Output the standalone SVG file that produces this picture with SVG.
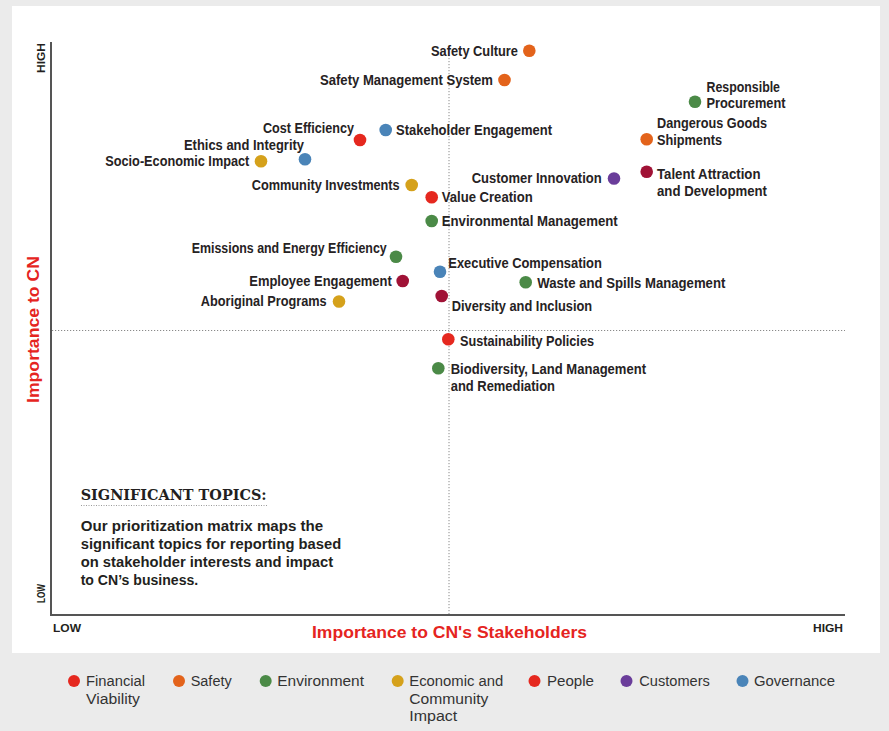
<svg xmlns="http://www.w3.org/2000/svg" width="889" height="731" viewBox="0 0 889 731">
<style>
text{font-family:"Liberation Sans",Arial,sans-serif;fill:#231f20}
.l{font-weight:700;font-size:14.4px;fill:#262223}
.g{font-weight:400;font-size:14px;fill:#333}
.ax{font-weight:700;font-size:11px}
.t{font-weight:700;font-size:17px;fill:#e52421}
.p{font-weight:700;font-size:14px}
.h{font-family:"DejaVu Serif","Liberation Serif",serif;font-weight:700;font-size:14px}
.red{fill:#e5281f}.org{fill:#e3631b}.grn{fill:#4b8a47}.gld{fill:#d5a11b}.mar{fill:#a01236}.pur{fill:#6a3d9a}.blu{fill:#4a84b8}
.dot{stroke:none}
</style>
<rect x="0" y="0" width="889" height="731" fill="#ebebeb"/>
<rect x="12" y="6" width="868" height="647" fill="#ffffff"/>

<g id="axes">
<line x1="449" y1="55" x2="449" y2="615" stroke="#8a8a8a" stroke-width="1" stroke-dasharray="1.2,1.8"/>
<line x1="52" y1="330.5" x2="845" y2="330.5" stroke="#8a8a8a" stroke-width="1" stroke-dasharray="1.2,1.8"/>
<line x1="51" y1="42" x2="51" y2="616" stroke="#555" stroke-width="2"/>
<line x1="50" y1="615" x2="845" y2="615" stroke="#555" stroke-width="2"/>
<text class="ax" transform="translate(44.5,73) rotate(-90)" textLength="30" lengthAdjust="spacingAndGlyphs">HIGH</text>
<text class="ax" transform="translate(44.5,603) rotate(-90)" textLength="19" lengthAdjust="spacingAndGlyphs">LOW</text>
<text class="ax" x="53" y="632" textLength="28" lengthAdjust="spacingAndGlyphs">LOW</text>
<text class="ax" x="813" y="632" textLength="30" lengthAdjust="spacingAndGlyphs">HIGH</text>
<text class="t" transform="translate(39,403) rotate(-90)" textLength="147" lengthAdjust="spacingAndGlyphs">Importance to CN</text>
<text class="t" x="312" y="638" textLength="275" lengthAdjust="spacingAndGlyphs">Importance to CN's Stakeholders</text>
</g>

<g id="connectors"></g>

<g id="n-safety-culture"><circle class="dot org" cx="529.3" cy="50.7" r="6.3"/><text class="l" x="431" y="55.5" textLength="87" lengthAdjust="spacingAndGlyphs">Safety Culture</text></g>
<g id="n-sms"><circle class="dot org" cx="504.5" cy="80" r="6.3"/><text class="l" x="320" y="85" textLength="173" lengthAdjust="spacingAndGlyphs">Safety Management System</text></g>
<g id="n-responsible"><circle class="dot grn" cx="695" cy="101.7" r="6.3"/><text class="l"><tspan x="706.5" y="91.5" textLength="73.5" lengthAdjust="spacingAndGlyphs">Responsible</tspan><tspan x="706.5" y="108" textLength="79" lengthAdjust="spacingAndGlyphs">Procurement</tspan></text></g>
<g id="n-dangerous"><circle class="dot org" cx="646.7" cy="139.3" r="6.3"/><text class="l"><tspan x="657" y="128" textLength="110" lengthAdjust="spacingAndGlyphs">Dangerous Goods</tspan><tspan x="657" y="145" textLength="65" lengthAdjust="spacingAndGlyphs">Shipments</tspan></text></g>
<g id="n-talent"><circle class="dot mar" cx="646.7" cy="171.7" r="6.3"/><text class="l"><tspan x="657" y="179" textLength="103.5" lengthAdjust="spacingAndGlyphs">Talent Attraction</tspan><tspan x="657" y="195.5" textLength="110" lengthAdjust="spacingAndGlyphs">and Development</tspan></text></g>
<g id="n-customer"><circle class="dot pur" cx="614" cy="178.5" r="6.3"/><text class="l" x="471.7" y="183" textLength="130" lengthAdjust="spacingAndGlyphs">Customer Innovation</text></g>
<g id="n-value"><circle class="dot red" cx="431.7" cy="197.3" r="6.3"/><text class="l" x="441.7" y="202" textLength="91" lengthAdjust="spacingAndGlyphs">Value Creation</text></g>
<g id="n-envmgmt"><circle class="dot grn" cx="431.7" cy="221" r="6.3"/><text class="l" x="441.7" y="226" textLength="176" lengthAdjust="spacingAndGlyphs">Environmental Management</text></g>
<g id="n-community"><circle class="dot gld" cx="411.7" cy="185" r="6.3"/><text class="l" x="251.7" y="189.5" textLength="148" lengthAdjust="spacingAndGlyphs">Community Investments</text></g>
<g id="n-stakeholder"><circle class="dot blu" cx="385.7" cy="130" r="6.3"/><text class="l" x="396" y="135" textLength="156" lengthAdjust="spacingAndGlyphs">Stakeholder Engagement</text></g>
<g id="n-cost"><circle class="dot red" cx="360" cy="140" r="6.3"/><text class="l" x="263" y="132.5" textLength="91" lengthAdjust="spacingAndGlyphs">Cost Efficiency</text></g>
<g id="n-ethics"><circle class="dot blu" cx="305" cy="159.3" r="6.3"/><text class="l" x="184" y="149.5" textLength="120" lengthAdjust="spacingAndGlyphs">Ethics and Integrity</text></g>
<g id="n-socio"><circle class="dot gld" cx="261" cy="161.3" r="6.3"/><text class="l" x="105.3" y="166" textLength="144" lengthAdjust="spacingAndGlyphs">Socio-Economic Impact</text></g>
<g id="n-emissions"><circle class="dot grn" cx="396" cy="256.7" r="6.3"/><text class="l" x="191.7" y="253" textLength="195" lengthAdjust="spacingAndGlyphs">Emissions and Energy Efficiency</text></g>
<g id="n-employee"><circle class="dot mar" cx="402.7" cy="281" r="6.3"/><text class="l" x="249.3" y="285.7" textLength="142.5" lengthAdjust="spacingAndGlyphs">Employee Engagement</text></g>
<g id="n-aboriginal"><circle class="dot gld" cx="339" cy="301.5" r="6.3"/><text class="l" x="200.7" y="306" textLength="126" lengthAdjust="spacingAndGlyphs">Aboriginal Programs</text></g>
<g id="n-executive"><circle class="dot blu" cx="440" cy="271.7" r="6.3"/><text class="l" x="448.3" y="267.7" textLength="153.5" lengthAdjust="spacingAndGlyphs">Executive Compensation</text></g>
<g id="n-waste"><circle class="dot grn" cx="525.7" cy="282.3" r="6.3"/><text class="l" x="537.3" y="288.3" textLength="188" lengthAdjust="spacingAndGlyphs">Waste and Spills Management</text></g>
<g id="n-diversity"><circle class="dot mar" cx="441.7" cy="296" r="6.3"/><text class="l" x="451.7" y="311" textLength="140.5" lengthAdjust="spacingAndGlyphs">Diversity and Inclusion</text></g>
<g id="n-sustainability"><circle class="dot red" cx="448.3" cy="339.3" r="6.3"/><text class="l" x="460" y="345.5" textLength="134" lengthAdjust="spacingAndGlyphs">Sustainability Policies</text></g>
<g id="n-biodiversity"><circle class="dot grn" cx="438.3" cy="368.3" r="6.3"/><text class="l"><tspan x="450.7" y="374" textLength="195.3" lengthAdjust="spacingAndGlyphs">Biodiversity, Land Management</tspan><tspan x="450.7" y="391" textLength="104.3" lengthAdjust="spacingAndGlyphs">and Remediation</tspan></text></g>

<g id="significant-topics">
<text class="h" x="80.7" y="500" textLength="186" lengthAdjust="spacingAndGlyphs">SIGNIFICANT TOPICS:</text>
<line x1="81" y1="505.5" x2="267" y2="505.5" stroke="#9a9a9a" stroke-width="1" stroke-dasharray="1,1.5"/>
<text class="p"><tspan x="80.7" y="531" textLength="242.5" lengthAdjust="spacingAndGlyphs">Our prioritization matrix maps the</tspan><tspan x="80.7" y="549" textLength="260.5" lengthAdjust="spacingAndGlyphs">significant topics for reporting based</tspan><tspan x="80.7" y="567" textLength="252.5" lengthAdjust="spacingAndGlyphs">on stakeholder interests and impact</tspan><tspan x="80.7" y="585" textLength="117.5" lengthAdjust="spacingAndGlyphs">to CN’s business.</tspan></text>
</g>

<g id="legend">
<g id="leg-financial"><circle class="dot red" cx="74" cy="681" r="6"/><text class="g"><tspan x="86" y="686" textLength="59" lengthAdjust="spacingAndGlyphs">Financial</tspan><tspan x="86" y="704" textLength="54" lengthAdjust="spacingAndGlyphs">Viability</tspan></text></g>
<g id="leg-safety"><circle class="dot org" cx="179" cy="681" r="6"/><text class="g" x="190.7" y="686" textLength="41" lengthAdjust="spacingAndGlyphs">Safety</text></g>
<g id="leg-environment"><circle class="dot grn" cx="265.7" cy="681" r="6"/><text class="g" x="277.3" y="686" textLength="86.7" lengthAdjust="spacingAndGlyphs">Environment</text></g>
<g id="leg-economic"><circle class="dot gld" cx="397.7" cy="681" r="6"/><text class="g"><tspan x="409.3" y="686" textLength="94" lengthAdjust="spacingAndGlyphs">Economic and</tspan><tspan x="409.3" y="704" textLength="79" lengthAdjust="spacingAndGlyphs">Community</tspan><tspan x="409.3" y="721" textLength="48" lengthAdjust="spacingAndGlyphs">Impact</tspan></text></g>
<g id="leg-people"><circle class="dot red" cx="534.5" cy="681" r="6"/><text class="g" x="547" y="686" textLength="47" lengthAdjust="spacingAndGlyphs">People</text></g>
<g id="leg-customers"><circle class="dot pur" cx="626.5" cy="681" r="6"/><text class="g" x="639.3" y="686" textLength="70.5" lengthAdjust="spacingAndGlyphs">Customers</text></g>
<g id="leg-governance"><circle class="dot blu" cx="742.5" cy="681" r="6"/><text class="g" x="754" y="686" textLength="81" lengthAdjust="spacingAndGlyphs">Governance</text></g>
</g>
</svg>
